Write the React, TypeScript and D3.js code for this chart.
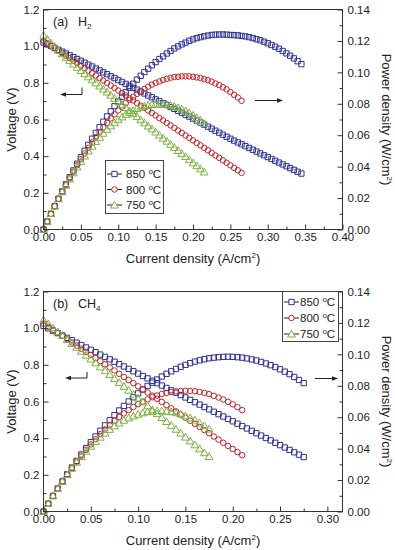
import { useEffect, useRef } from "react";
import * as d3 from "d3";

// current density (A/cm2), shared by every series (each one uses its first n points)
const currents = [
  0, 0.005, 0.01, 0.015, 0.02, 0.025, 0.03, 0.035, 0.04, 0.045,
  0.05, 0.055, 0.06, 0.065, 0.07, 0.075, 0.08, 0.085, 0.09, 0.095,
  0.1, 0.105, 0.11, 0.115, 0.12, 0.125, 0.13, 0.135, 0.14, 0.145,
  0.15, 0.155, 0.16, 0.165, 0.17, 0.175, 0.18, 0.185, 0.19, 0.195,
  0.2, 0.205, 0.21, 0.215, 0.22, 0.225, 0.23, 0.235, 0.24, 0.245,
  0.25, 0.255, 0.26, 0.265, 0.27, 0.275, 0.28, 0.285, 0.29, 0.295,
  0.3, 0.305, 0.31, 0.315, 0.32, 0.325, 0.33, 0.335, 0.34, 0.345,
];

// (a) H2
const h2Volt850 = [
  1.02, 1.01, 1.0, 0.99, 0.98, 0.97, 0.96, 0.95, 0.94, 0.93,
  0.92, 0.91, 0.899, 0.889, 0.878, 0.868, 0.857, 0.847, 0.836, 0.826,
  0.815, 0.805, 0.794, 0.784, 0.773, 0.763, 0.752, 0.742, 0.731, 0.721,
  0.71, 0.7, 0.689, 0.679, 0.668, 0.658, 0.647, 0.637, 0.626, 0.616,
  0.605, 0.594, 0.583, 0.572, 0.561, 0.55, 0.539, 0.528, 0.517, 0.506,
  0.495, 0.485, 0.475, 0.465, 0.455, 0.445, 0.435, 0.425, 0.415, 0.405,
  0.395, 0.385, 0.375, 0.365, 0.355, 0.345, 0.335, 0.325, 0.315, 0.305,
];
const h2Power850 = [
  0, 0.0051, 0.01, 0.0149, 0.0196, 0.0243, 0.0288, 0.0333, 0.0376, 0.0419,
  0.046, 0.0501, 0.0539, 0.0578, 0.0615, 0.0651, 0.0686, 0.072, 0.0752, 0.0785,
  0.0815, 0.0845, 0.0873, 0.0902, 0.0928, 0.0954, 0.0978, 0.1002, 0.1023, 0.1045,
  0.1065, 0.1085, 0.1102, 0.112, 0.1136, 0.1152, 0.1165, 0.1178, 0.1189, 0.1201,
  0.121, 0.1218, 0.1224, 0.123, 0.1234, 0.1238, 0.124, 0.1241, 0.1241, 0.124,
  0.1238, 0.1237, 0.1235, 0.1232, 0.1229, 0.1224, 0.1218, 0.1211, 0.1204, 0.1195,
  0.1185, 0.1174, 0.1163, 0.115, 0.1136, 0.1121, 0.1106, 0.1089, 0.1071, 0.1052,
];
const h2Volt800 = [
  1.03, 1.016, 1.003, 0.989, 0.976, 0.962, 0.948, 0.935, 0.921, 0.908,
  0.894, 0.88, 0.867, 0.853, 0.84, 0.826, 0.812, 0.799, 0.785, 0.772,
  0.758, 0.744, 0.731, 0.717, 0.704, 0.69, 0.676, 0.663, 0.649, 0.636,
  0.622, 0.608, 0.595, 0.581, 0.568, 0.554, 0.54, 0.527, 0.513, 0.5,
  0.486, 0.472, 0.459, 0.445, 0.432, 0.418, 0.404, 0.391, 0.377, 0.364,
  0.35, 0.336, 0.323, 0.309,
];
const h2Power800 = [
  0, 0.0051, 0.01, 0.0148, 0.0195, 0.0241, 0.0284, 0.0327, 0.0368, 0.0409,
  0.0447, 0.0484, 0.052, 0.0554, 0.0588, 0.062, 0.065, 0.0679, 0.0707, 0.0733,
  0.0758, 0.0781, 0.0804, 0.0825, 0.0845, 0.0863, 0.0879, 0.0895, 0.0909, 0.0922,
  0.0933, 0.0942, 0.0952, 0.0959, 0.0966, 0.097, 0.0972, 0.0975, 0.0975, 0.0975,
  0.0972, 0.0968, 0.0964, 0.0957, 0.095, 0.0941, 0.0929, 0.0919, 0.0905, 0.0892,
  0.0875, 0.0857, 0.084, 0.0819,
];
const h2Volt750 = [
  1.06, 1.039, 1.018, 0.998, 0.978, 0.959, 0.94, 0.921, 0.903, 0.885,
  0.867, 0.85, 0.833, 0.817, 0.8, 0.783, 0.766, 0.75, 0.733, 0.716,
  0.699, 0.683, 0.666, 0.649, 0.632, 0.616, 0.599, 0.582, 0.565, 0.549,
  0.532, 0.515, 0.498, 0.482, 0.465, 0.448, 0.431, 0.415, 0.398, 0.381,
  0.364, 0.348, 0.331, 0.314,
];
const h2Power750 = [
  0, 0.0052, 0.0102, 0.015, 0.0196, 0.024, 0.0282, 0.0322, 0.0361, 0.0398,
  0.0434, 0.0468, 0.05, 0.0531, 0.056, 0.0587, 0.0613, 0.0638, 0.066, 0.068,
  0.0699, 0.0717, 0.0733, 0.0746, 0.0758, 0.077, 0.0779, 0.0786, 0.0791, 0.0796,
  0.0798, 0.0798, 0.0797, 0.0795, 0.0791, 0.0784, 0.0776, 0.0768, 0.0756, 0.0743,
  0.0728, 0.0713, 0.0695, 0.0675,
];

// (b) CH4
const ch4Volt850 = [
  1.012, 0.999, 0.986, 0.973, 0.96, 0.947, 0.934, 0.921, 0.908, 0.895,
  0.882, 0.869, 0.856, 0.843, 0.83, 0.817, 0.804, 0.791, 0.778, 0.765,
  0.752, 0.739, 0.726, 0.713, 0.7, 0.687, 0.674, 0.661, 0.648, 0.635,
  0.622, 0.609, 0.596, 0.583, 0.57, 0.557, 0.544, 0.531, 0.518, 0.505,
  0.492, 0.479, 0.466, 0.453, 0.44, 0.427, 0.414, 0.401, 0.388, 0.375,
  0.362, 0.349, 0.336, 0.323, 0.31, 0.297,
];
const ch4Power850 = [
  0, 0.005, 0.0099, 0.0146, 0.0192, 0.0237, 0.028, 0.0322, 0.0363, 0.0403,
  0.0441, 0.0478, 0.0514, 0.0548, 0.0581, 0.0613, 0.0643, 0.0672, 0.07, 0.0727,
  0.0752, 0.0776, 0.0799, 0.082, 0.084, 0.0859, 0.0876, 0.0892, 0.0907, 0.0921,
  0.0933, 0.0944, 0.0954, 0.0962, 0.0969, 0.0975, 0.0979, 0.0982, 0.0984, 0.0985,
  0.0984, 0.0982, 0.0979, 0.0974, 0.0968, 0.0961, 0.0952, 0.0942, 0.0931, 0.0919,
  0.0905, 0.089, 0.0874, 0.0856, 0.0837, 0.0817,
];
const ch4Volt800 = [
  1.025, 1.008, 0.991, 0.974, 0.957, 0.94, 0.922, 0.905, 0.888, 0.871,
  0.854, 0.837, 0.82, 0.803, 0.786, 0.769, 0.751, 0.734, 0.717, 0.7,
  0.683, 0.666, 0.649, 0.632, 0.615, 0.598, 0.58, 0.563, 0.546, 0.529,
  0.512, 0.495, 0.478, 0.461, 0.444, 0.427, 0.409, 0.392, 0.375, 0.358,
  0.341, 0.324, 0.307,
];
const ch4Power800 = [
  0, 0.005, 0.0099, 0.0146, 0.0191, 0.0235, 0.0277, 0.0317, 0.0355, 0.0392,
  0.0427, 0.046, 0.0492, 0.0522, 0.055, 0.0577, 0.0601, 0.0624, 0.0645, 0.0665,
  0.0683, 0.0699, 0.0714, 0.0727, 0.0738, 0.0748, 0.0754, 0.076, 0.0764, 0.0767,
  0.0768, 0.0767, 0.0765, 0.0761, 0.0755, 0.0747, 0.0736, 0.0725, 0.0713, 0.0698,
  0.0682, 0.0664, 0.0645,
];
const ch4Volt750 = [
  1.045, 1.024, 1.002, 0.981, 0.96, 0.938, 0.917, 0.896, 0.875, 0.853,
  0.832, 0.811, 0.789, 0.768, 0.747, 0.726, 0.704, 0.683, 0.662, 0.64,
  0.619, 0.598, 0.577, 0.555, 0.534, 0.513, 0.491, 0.47, 0.449, 0.428,
  0.406, 0.385, 0.364, 0.342, 0.321, 0.3,
];
const ch4Power750 = [
  0, 0.0051, 0.01, 0.0147, 0.0192, 0.0235, 0.0275, 0.0314, 0.035, 0.0384,
  0.0416, 0.0446, 0.0473, 0.0499, 0.0523, 0.0545, 0.0563, 0.0581, 0.0596, 0.0608,
  0.0619, 0.0628, 0.0635, 0.0638, 0.0641, 0.0641, 0.0638, 0.0635, 0.0629, 0.0621,
  0.0609, 0.0597, 0.0582, 0.0564, 0.0546, 0.0525,
];

const temps = ["850", "800", "750"];
const colors = ["#2e3192", "#c1272d", "#7cb342"];
const shapes = [d3.symbolSquare, d3.symbolCircle, d3.symbolTriangle];
const shapeSizes = [28, 24, 26];

const voltTicks = [0, 0.2, 0.4, 0.6, 0.8, 1.0, 1.2];
const powerTicks = [0, 0.02, 0.04, 0.06, 0.08, 0.1, 0.12, 0.14];
const h2CurrentTicks = [0, 0.05, 0.1, 0.15, 0.2, 0.25, 0.3, 0.35, 0.4];
const ch4CurrentTicks = [0, 0.05, 0.1, 0.15, 0.2, 0.25, 0.3];

const FONT = "'Liberation Sans', Arial, sans-serif";

type Panel = {
  top: number;
  xMax: number;
  xTicks: number[];
  letter: string;
  gas: string;
  sub: string;
  volts: number[][];
  powers: number[][];
  legend: { x: number; y: number; w: number; h: number; rows: number[]; lineX: number; textX: number };
  leftArrow: { x1: number; x2: number; y: number; hook: number };
  rightArrow: { x1: number; x2: number; y: number };
};

const panels: Panel[] = [
  {
    top: 9.5,
    xMax: 0.4,
    xTicks: h2CurrentTicks,
    letter: "(a)",
    gas: "H",
    sub: "2",
    volts: [h2Volt850, h2Volt800, h2Volt750],
    powers: [h2Power850, h2Power800, h2Power750],
    legend: { x: 105.5, y: 160.5, w: 58, h: 53, rows: [174, 189.5, 205], lineX: 107, textX: 126 },
    leftArrow: { x1: 60, x2: 82, y: 94.5, hook: 7 },
    rightArrow: { x1: 255, x2: 283, y: 100.5 },
  },
  {
    top: 291.5,
    xMax: 0.316,
    xTicks: ch4CurrentTicks,
    letter: "(b)",
    gas: "CH",
    sub: "4",
    volts: [ch4Volt850, ch4Volt800, ch4Volt750],
    powers: [ch4Power850, ch4Power800, ch4Power750],
    legend: { x: 282.5, y: 291.5, w: 56, h: 50, rows: [302, 318, 334], lineX: 284, textX: 300 },
    leftArrow: { x1: 65, x2: 87, y: 378, hook: 6 },
    rightArrow: { x1: 315, x2: 338, y: 378.5 },
  },
];

const left = 43.5;
const right = 342.5;
const plotH = 220;

function drawPanel(root: d3.Selection<SVGGElement, unknown, null, undefined>, p: Panel) {
  const top = p.top;
  const bottom = top + plotH;
  const x = d3.scaleLinear().domain([0, p.xMax]).range([left, right]);
  const yV = d3.scaleLinear().domain([0, 1.2]).range([bottom, top]);
  const yP = d3.scaleLinear().domain([0, 0.14]).range([bottom, top]);

  const g = root.append("g").style("font-family", FONT);

  // series (clipped to plot area)
  const clipId = "clip" + Math.round(top);
  g.append("clipPath").attr("id", clipId)
    .append("rect").attr("x", left - 4).attr("y", top - 4).attr("width", right - left + 8).attr("height", plotH + 8);
  const marks = g.append("g").attr("clip-path", `url(#${clipId})`);

  p.volts.forEach((vals, si) => {
    const sym = d3.symbol().type(shapes[si]).size(shapeSizes[si]);
    const pts = vals.map((v, i) => ({ i: currents[i], v, w: p.powers[si][i] }));
    marks.append("g").selectAll("path").data(pts).enter().append("path")
      .attr("d", sym)
      .attr("transform", (d) => `translate(${x(d.i)},${yV(d.v)})${si === 2 ? " translate(0,0.8)" : ""}`)
      .attr("fill", "none").attr("stroke", colors[si]).attr("stroke-width", 1);
    marks.append("g").selectAll("path").data(pts).enter().append("path")
      .attr("d", sym)
      .attr("transform", (d) => `translate(${x(d.i)},${yP(d.w)})${si === 2 ? " translate(0,0.8)" : ""}`)
      .attr("fill", "none").attr("stroke", colors[si]).attr("stroke-width", 1);
  });

  // frame
  g.append("rect").attr("x", left).attr("y", top).attr("width", right - left).attr("height", plotH)
    .attr("fill", "none").attr("stroke", "#333").attr("stroke-width", 1);

  const minorOf = (ticks: number[], max: number) => {
    const step = ticks[1] - ticks[0];
    return ticks.map((t) => t + step / 2).filter((t) => t < max);
  };

  const styleAxis = (sel: d3.Selection<SVGGElement, unknown, null, undefined>) => {
    sel.select(".domain").remove();
    sel.selectAll("line").attr("stroke", "#333");
    sel.selectAll("text").attr("fill", "#222").style("font-size", "11.5px").style("font-family", FONT);
  };

  // left axis
  const gl = g.append("g").attr("transform", `translate(${left},0)`);
  gl.call(d3.axisLeft(yV).tickValues(voltTicks).tickSize(-5).tickPadding(4).tickFormat(d3.format(".1f")));
  styleAxis(gl);
  const glm = g.append("g").attr("transform", `translate(${left},0)`);
  glm.call(d3.axisLeft(yV).tickValues(minorOf(voltTicks, 1.2)).tickSize(-3).tickFormat(() => ""));
  styleAxis(glm);

  // right axis
  const gr = g.append("g").attr("transform", `translate(${right},0)`);
  gr.call(d3.axisRight(yP).tickValues(powerTicks).tickSize(-5).tickPadding(5).tickFormat(d3.format(".2f")));
  styleAxis(gr);
  const grm = g.append("g").attr("transform", `translate(${right},0)`);
  grm.call(d3.axisRight(yP).tickValues(minorOf(powerTicks, 0.14)).tickSize(-3).tickFormat(() => ""));
  styleAxis(grm);

  // bottom axis
  const gb = g.append("g").attr("transform", `translate(0,${bottom})`);
  gb.call(d3.axisBottom(x).tickValues(p.xTicks).tickSize(-5).tickPadding(3).tickFormat(d3.format(".2f")));
  styleAxis(gb);
  const gbm = g.append("g").attr("transform", `translate(0,${bottom})`);
  gbm.call(d3.axisBottom(x).tickValues(minorOf(p.xTicks, p.xMax)).tickSize(-3).tickFormat(() => ""));
  styleAxis(gbm);

  // axis titles
  const xt = g.append("text").attr("x", (left + right) / 2).attr("y", bottom + 33)
    .attr("text-anchor", "middle").style("font-size", "13px").attr("fill", "#222");
  xt.append("tspan").text("Current density (A/cm");
  xt.append("tspan").attr("dy", -5).style("font-size", "8px").text("2");
  xt.append("tspan").attr("dy", 5).text(")");

  g.append("text").attr("transform", `translate(16,${(top + bottom) / 2}) rotate(-90)`)
    .attr("text-anchor", "middle").style("font-size", "13px").attr("fill", "#222").text("Voltage (V)");

  const rt = g.append("text").attr("transform", `translate(382,${(top + bottom) / 2}) rotate(90)`)
    .attr("text-anchor", "middle").style("font-size", "13px").attr("fill", "#222");
  rt.append("tspan").text("Power density (W/cm");
  rt.append("tspan").attr("dy", -5).style("font-size", "8px").text("2");
  rt.append("tspan").attr("dy", 5).text(")");

  // panel label
  const pl = g.append("text").attr("x", 53).attr("y", top + 16).style("font-size", "12.5px").attr("fill", "#222");
  pl.append("tspan").text(p.letter);
  pl.append("tspan").attr("x", 78).text(p.gas);
  pl.append("tspan").attr("dy", 3).style("font-size", "8px").text(p.sub);

  // arrows
  const la = p.leftArrow;
  g.append("path").attr("d", `M${la.x2},${la.y - la.hook}V${la.y}H${la.x1 + 5}`)
    .attr("fill", "none").attr("stroke", "#222").attr("stroke-width", 1);
  g.append("path").attr("d", `M${la.x1},${la.y}l6,-2.2v4.4z`).attr("fill", "#222");
  const ra = p.rightArrow;
  g.append("path").attr("d", `M${ra.x1},${ra.y}H${ra.x2 - 5}`).attr("stroke", "#222").attr("stroke-width", 1);
  g.append("path").attr("d", `M${ra.x2},${ra.y}l-6,-2.2v4.4z`).attr("fill", "#222");

  // legend
  const lg = p.legend;
  g.append("rect").attr("x", lg.x).attr("y", lg.y).attr("width", lg.w).attr("height", lg.h)
    .attr("fill", "white").attr("stroke", "#444").attr("stroke-width", 1);
  temps.forEach((t, si) => {
    const yy = lg.rows[si];
    g.append("line").attr("x1", lg.lineX).attr("x2", lg.lineX + 15).attr("y1", yy).attr("y2", yy)
      .attr("stroke", "#222").attr("stroke-width", 1);
    g.append("path").attr("d", d3.symbol().type(shapes[si]).size(shapeSizes[si])())
      .attr("transform", `translate(${lg.lineX + 7.5},${yy + (si === 2 ? 0.8 : 0)})`)
      .attr("fill", "white").attr("stroke", colors[si]).attr("stroke-width", 1);
    const tx = g.append("text").attr("x", lg.textX).attr("y", yy + 4).style("font-size", "11.5px").attr("fill", "#222");
    tx.append("tspan").text(t + " ");
    tx.append("tspan").attr("dy", -4).style("font-size", "8px").text("o");
    tx.append("tspan").attr("dy", 4).text("C");
  });
}

export default function App() {
  const svgRef = useRef<SVGSVGElement>(null);

  useEffect(() => {
    const svg = d3.select(svgRef.current);
    svg.selectAll("*").remove();
    const root = svg.append("g");
    panels.forEach((p) => drawPanel(root as any, p));
  }, []);

  return (
    <svg
      ref={svgRef}
      width={395}
      height={550}
      style={{ position: "absolute", left: 0, top: 0, background: "white" }}
    />
  );
}
